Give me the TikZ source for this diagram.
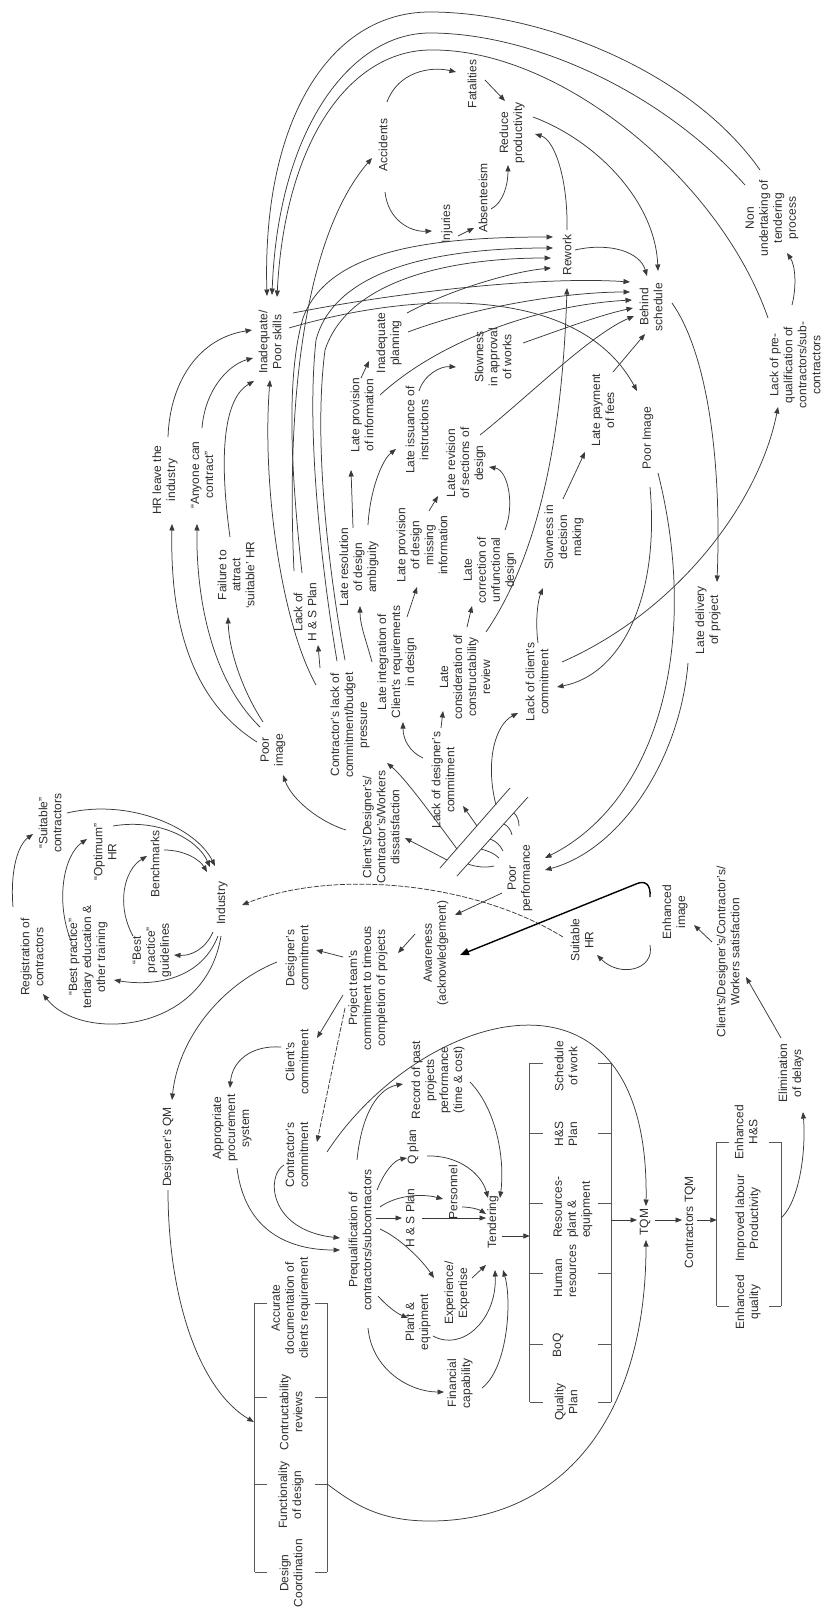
\documentclass[tikz,border=0pt]{standalone}
\usepackage{fontspec}
\setmainfont{Liberation Sans}
\usetikzlibrary{arrows.meta}
\definecolor{lncol}{HTML}{3A3A3A}
\definecolor{txtcol}{HTML}{2E2E2E}
\begin{document}
\begin{tikzpicture}[x=1pt,y=-1pt,
  lbl/.style={rotate=90,align=center,font=\fontsize{12}{14}\selectfont,text=txtcol,inner sep=1pt},
  arr/.style={draw=lncol,line width=0.75pt,-{Triangle[length=6.5pt,width=5pt]}},
  lnplain/.style={draw=lncol,line width=0.75pt},
  boxline/.style={draw=lncol!85,line width=1pt},
  thickarr/.style={draw=black,line width=1.4pt,-{Triangle[length=9pt,width=7pt]}},
  dasharr/.style={arr,dash pattern=on 5pt off 1.5pt}]
\fill[white] (0,0) rectangle (826,1613);
\useasboundingbox (0,0) rectangle (826,1613);

% ---------------- nodes ----------------
\node[lbl] (acc) at (383,145) {Accidents};
\node[lbl] (fat) at (472,84) {Fatalities};
\node[lbl] (redprod) at (512,133) {Reduce\\productivity};
\node[lbl] (inj) at (447,224) {Injuries};
\node[lbl] (abs) at (483,198) {Absenteeism};
\node[lbl] (rework) at (567,255) {Rework};
\node[lbl] (behind) at (651,307) {Behind\\schedule};
\node[lbl] (nonund) at (772,218) {Non\\undertaking of\\tendering\\process};
\node[lbl] (lackpq) at (795,365) {Lack of pre-\\qualification of\\contractors/sub-\\contractors};
\node[lbl] (slowapp) at (493,357) {Slowness\\in approval\\of works};
\node[lbl] (latepay) at (603,410) {Late payment\\of fees};
\node[lbl] (poorimg2) at (648,438) {Poor Image};
\node[lbl] (latedel) at (708,620) {Late delivery\\of project};
\node[lbl] (inad) at (270,342) {Inadequate/\\Poor skills};
\node[lbl] (hrleave) at (165,480) {HR leave the\\industry};
\node[lbl] (anyone) at (202,475) {“Anyone can\\contract”};
\node[lbl] (failure) at (236,575) {Failure to\\attract\\‘suitable’ HR};
\node[lbl] (lackhs) at (305,612) {Lack of\\H \& S Plan};
\node[lbl] (poorimg) at (273,750) {Poor\\image};
\node[lbl] (contlack) at (350,725) {Contractor’s lack of\\commitment/budget\\pressure};
\node[lbl] (dissat) at (381,827) {Client’s/Designer’s/\\Contractor’s/Workers\\dissatisfaction};
\node[lbl] (lateres) at (359,567) {Late resolution\\of design\\ambiguity};
\node[lbl] (lateprovinfo) at (362,415) {Late provision\\of information};
\node[lbl] (inadplan) at (389,343) {Inadequate\\planning};
\node[lbl] (lateiss) at (417,430) {Late issuance of\\instructions};
\node[lbl] (lateprovdes) at (422,545) {Late provision\\of design\\missing\\information};
\node[lbl] (laterev) at (466,463) {Late revision\\of sections of\\design};
\node[lbl] (lateint) at (397,662) {Late integration of\\Client’s requirements\\in design};
\node[lbl] (latecorr) at (490,570) {Late\\correction of\\unfunctional\\design};
\node[lbl] (latecons) at (465,677) {Late\\consideration of\\constructability\\review};
\node[lbl] (slowdec) at (564,537) {Slowness in\\decision\\making};
\node[lbl] (lackcli) at (537,682) {Lack of client’s\\commitment};
\node[lbl] (lackdes) at (443,780) {Lack of designer’s\\commitment};
\node[lbl] (poorperf) at (520,878) {Poor\\performance};
\node[lbl] (aware) at (436,953) {Awareness\\(acknowledgement)};
\node[lbl] (suithr) at (582,940) {Suitable\\HR};
\node[lbl] (enhimg) at (675,912) {Enhanced\\image};
\node[lbl] (satis) at (728,952) {Client’s/Designer’s/Contractor’s/\\Workers satisfaction};
\node[lbl] (elim) at (791,1073) {Elimination\\of delays};
\node[lbl] (industry) at (222,903) {Industry};
\node[lbl] (registration) at (32,957) {Registration of\\contractors};
\node[lbl] (suitcon) at (50,823) {“Suitable”\\contractors};
\node[lbl] (bestedu) at (88,957) {“Best practice”\\tertiary education \&\\other training};
\node[lbl] (optimum) at (105,852) {“Optimum”\\HR};
\node[lbl] (bestguide) at (152,950) {“Best\\practice”\\guidelines};
\node[lbl] (bench) at (155,864) {Benchmarks};
\node[lbl] (desc) at (297,958) {Designer’s\\commitment};
\node[lbl] (clic) at (297,1062) {Client’s\\commitment};
\node[lbl] (conc) at (297,1155) {Contractor’s\\commitment};
\node[lbl] (projteam) at (368,988) {Project team’s\\commitment to timeous\\completion of projects};
\node[lbl] (desqm) at (168,1147) {Designer’s QM};
\node[lbl] (approc) at (232,1128) {Appropriate\\procurement\\system};
\node[lbl] (prequal) at (360,1240) {Prequalification of\\contractors/subcontractors};
\node[lbl] (qplan) at (413,1147) {Q plan};
\node[lbl] (record) at (438,1080) {Record of past\\projects\\performance\\(time \& cost)};
\node[lbl] (personnel) at (453,1192) {Personnel};
\node[lbl] (hsplan) at (410,1218) {H \& S Plan};
\node[lbl] (experience) at (457,1293) {Experience/\\Expertise};
\node[lbl] (plant) at (418,1322) {Plant \&\\equipment};
\node[lbl] (financial) at (460,1383) {Financial\\capability};
\node[lbl] (tendering) at (493,1222) {Tendering};
\node[lbl] (tqm) at (645,1222) {TQM};
\node[lbl] (contqm) at (690,1222) {Contractors TQM};

% ---------------- bracket boxes ----------------
\node[minimum width=81pt,minimum height=339pt,inner sep=0pt] (tbox) at (570.5,1232.5) {};
\draw[boxline] (tbox.north west) -- (tbox.south west);
\draw[boxline] (tbox.north east) -- (tbox.south east);
\foreach \yy in {1063,1133,1203,1273,1344,1402} {
  \draw[boxline] (530,\yy) -- (543,\yy);
  \draw[boxline] (598,\yy) -- (611,\yy);
}
\node[lbl] (tb1) at (566,1066) {Schedule\\of work};
\node[lbl] (tb2) at (566,1134) {H\&S\\Plan};
\node[lbl,align=left] (tb3) at (573,1207) {Resources-\\plant \&\\equipment};
\node[lbl,align=left] (tb4) at (565,1271) {Human\\resources};
\node[lbl] (tb5) at (558,1345) {BoQ};
\node[lbl] (tb6) at (566,1402) {Quality\\Plan};

\node[minimum width=72pt,minimum height=269pt,inner sep=0pt] (dbox) at (291,1437.5) {};
\draw[boxline] (dbox.north west) -- (dbox.south west);
\draw[boxline] (dbox.north east) -- (dbox.south east);
\foreach \yy in {1303,1397,1484,1572} {
  \draw[boxline] (255,\yy) -- (267,\yy);
  \draw[boxline] (315,\yy) -- (327,\yy);
}
\node[lbl] (db1) at (291,1308) {Accurate\\documentation of\\clients requirement};
\node[lbl] (db2) at (291,1412) {Contructability\\reviews};
\node[lbl] (db3) at (291,1495) {Functionality\\of design};
\node[lbl] (db4) at (291,1573) {Design\\Coordination};

\node[minimum width=64pt,minimum height=164pt,inner sep=0pt] (cbox) at (749,1224) {};
\draw[boxline] (cbox.north west) -- (cbox.south west);
\draw[boxline] (cbox.north east) -- (cbox.south east);
\foreach \yy in {1142,1306} {
  \draw[boxline] (717,\yy) -- (729,\yy);
  \draw[boxline] (769,\yy) -- (781,\yy);
}
\node[lbl] (cb1) at (746,1132) {Enhanced\\H\&S};
\node[lbl] (cb2) at (748,1218) {Improved labour\\Productivity};
\node[lbl] (cb3) at (748,1302) {Enhanced\\quality};

% ---------------- connectors: upper area ----------------
\draw[arr] ([shift={(-11,-41)}]lackhs.center) .. controls (285,380) and (310,230) .. ([shift={(-11,13)}]acc.center);
\draw[arr] ([shift={(3,-43)}]hrleave.center) .. controls (170,380) and (200,338) .. ([shift={(-18,-12)}]inad.center);
\draw[arr] ([shift={(0,-47)}]anyone.center) .. controls (205,390) and (228,365) .. ([shift={(-17,16)}]inad.center);
\draw[arr] ([shift={(-6,-38)}]failure.center) .. controls (218,450) and (225,398) .. ([shift={(-16,39)}]inad.center);
\draw[arr] ([shift={(-34,-40)}]contlack.center) .. controls (280,620) and (262,480) .. ([shift={(0,38)}]inad.center);
\draw[arr] ([shift={(-16,-8)}]poorimg.center) .. controls (190,700) and (170,620) .. ([shift={(7,44)}]hrleave.center);
\draw[arr] ([shift={(-13,-23)}]poorimg.center) .. controls (212,680) and (196,600) .. ([shift={(-5,49)}]anyone.center);
\draw[arr] ([shift={(-10,-28)}]poorimg.center) .. controls (242,690) and (229,650) .. ([shift={(-8,42)}]failure.center);
\draw[arr] ([shift={(-35,3)}]dissat.center) .. controls (320,822) and (292,800) .. ([shift={(10,25)}]poorimg.center);
\draw[arr] ([shift={(-30,-57)}]contlack.center) -- ([shift={(13,33)}]lackhs.center);

% arcs to rework
\draw[arr] ([shift={(-3,-39)}]lackhs.center) .. controls (292,480) and (285,380) .. (303,318) .. controls (328,250) and (430,237) .. ([shift={(-14,-18)}]rework.center);
\draw[arr] ([shift={(-13,-64)}]contlack.center) .. controls (325,590) and (305,440) .. (316,340) .. controls (335,268) and (440,248) .. ([shift={(-14,-7)}]rework.center);
\draw[arr] ([shift={(-5,-65)}]contlack.center) .. controls (332,590) and (312,450) .. (325,350) .. controls (348,280) and (450,258) .. ([shift={(-16,3)}]rework.center);
\draw[arr] ([shift={(18,-30)}]inadplan.center) .. controls (450,290) and (510,272) .. ([shift={(-16,13)}]rework.center);

\draw[arr] ([shift={(-25,0)}]lateint.center) .. controls (366,640) and (360,625) .. ([shift={(1,39)}]lateres.center);
\draw[arr] ([shift={(10,-45)}]lateint.center) -- ([shift={(-5,42)}]lateprovdes.center);
\draw[arr] ([shift={(-6,-39)}]lateres.center) -- ([shift={(-11,55)}]lateprovinfo.center);
\draw[arr] ([shift={(9,-42)}]lateres.center) .. controls (370,490) and (382,460) .. ([shift={(-21,19)}]lateiss.center);
\draw[arr] ([shift={(-1,-37)}]lateprovinfo.center) -- ([shift={(-20,18)}]inadplan.center);
\draw[arr] ([shift={(2,-39)}]lateiss.center) .. controls (424,375) and (440,366) .. ([shift={(-37,10)}]slowapp.center);
\draw[arr] ([shift={(7,-34)}]lateprovdes.center) -- ([shift={(-28,33)}]laterev.center);
\draw[arr] ([shift={(15,-40)}]latecorr.center) .. controls (515,505) and (508,470) .. ([shift={(23,4)}]laterev.center);
\draw[arr] ([shift={(2,-50)}]latecons.center) -- ([shift={(-18,36)}]latecorr.center);
\draw[arr] ([shift={(21,-45)}]latecons.center) .. controls (535,560) and (562,450) .. ([shift={(0,33)}]rework.center);
\draw[arr] ([shift={(-20,-22)}]lackdes.center) .. controls (410,752) and (403,740) .. ([shift={(6,60)}]lateint.center);
\draw[arr] ([shift={(-2,-52)}]lackdes.center) -- ([shift={(-22,34)}]latecons.center);
\draw[arr] ([shift={(1,-39)}]lackcli.center) .. controls (535,620) and (538,600) .. ([shift={(-21,51)}]slowdec.center);
\draw[arr] ([shift={(-1,-38)}]slowdec.center) -- ([shift={(-18,42)}]latepay.center);
\draw[arr] ([shift={(10,-38)}]latepay.center) -- ([shift={(-6,27)}]behind.center);
\draw[arr] ([shift={(25,-20)}]lackcli.center) .. controls (680,610) and (760,500) .. ([shift={(-17,42)}]lackpq.center);
\draw[arr] ([shift={(2,49)}]poorimg2.center) .. controls (660,600) and (620,675) .. ([shift={(20,5)}]lackcli.center);
\draw[arr] ([shift={(10,35)}]poorimg2.center) .. controls (700,640) and (660,800) .. ([shift={(25,-20)}]poorperf.center);
\draw[arr] ([shift={(-20,43)}]latedel.center) .. controls (680,760) and (620,850) .. ([shift={(25,-8)}]poorperf.center);
\draw[arr] ([shift={(21,-4)}]behind.center) .. controls (705,350) and (722,450) .. ([shift={(9,-38)}]latedel.center);
\draw[arr] ([shift={(-3,-60)}]lackpq.center) .. controls (797,285) and (795,265) .. ([shift={(15,35)}]nonund.center);

% big arcs over the top
\draw[arr] ([shift={(-12,-48)}]nonund.center) .. controls (690,70) and (540,12) .. (430,12) .. controls (330,12) and (262,120) .. ([shift={(-3,-46)}]inad.center);
\draw[arr] ([shift={(-27,-33)}]nonund.center) .. controls (660,90) and (530,33) .. (430,33) .. controls (350,33) and (278,130) .. ([shift={(2,-47)}]inad.center);
\draw[arr] ([shift={(-27,-47)}]lackpq.center) .. controls (720,180) and (560,48) .. (430,50) .. controls (350,51) and (285,140) .. ([shift={(7,-45)}]inad.center);

\draw[arr] ([shift={(0,-25)}]rework.center) .. controls (568,180) and (555,140) .. ([shift={(23,1)}]redprod.center);
\draw[arr] ([shift={(8,11)}]abs.center) .. controls (503,203) and (508,185) .. ([shift={(-4,32)}]redprod.center);
\draw[arr] ([shift={(13,-4)}]fat.center) -- ([shift={(-7,-32)}]redprod.center);
\draw[arr] ([shift={(4,-43)}]acc.center) .. controls (398,72) and (430,66) .. ([shift={(-16,-12)}]fat.center);
\draw[arr] ([shift={(2,47)}]acc.center) .. controls (388,220) and (410,232) .. ([shift={(-15,7)}]inj.center);
\draw[arr] ([shift={(11,12)}]inj.center) -- ([shift={(-9,30)}]abs.center);
\draw[arr] ([shift={(21,-16)}]redprod.center) .. controls (595,140) and (655,200) .. ([shift={(7,-36)}]behind.center);
\draw[arr] ([shift={(8,-5)}]rework.center) .. controls (610,242) and (640,252) .. ([shift={(-4,-31)}]behind.center);
\draw[arr] ([shift={(23,-29)}]inad.center) .. controls (400,292) and (540,276) .. ([shift={(-21,-25)}]behind.center);
\draw[arr] ([shift={(19,-14)}]inad.center) .. controls (440,284) and (585,295) .. ([shift={(-11,-47)}]poorimg2.center);
\draw[arr] ([shift={(19,-11)}]inadplan.center) .. controls (480,305) and (570,292) .. ([shift={(-21,-15)}]behind.center);
\draw[arr] ([shift={(18,-20)}]lateprovinfo.center) .. controls (440,340) and (540,305) .. ([shift={(-19,-7)}]behind.center);
\draw[arr] ([shift={(30,-14)}]slowapp.center) .. controls (560,330) and (600,315) .. ([shift={(-18,1)}]behind.center);
\draw[arr] ([shift={(14,-28)}]laterev.center) .. controls (530,395) and (590,335) .. ([shift={(-17,9)}]behind.center);

% ---------------- poor performance fan ----------------
\coordinate (bar1a) at (440,868); \coordinate (bar1b) at (510,788);
\coordinate (bar2a) at (457,876); \coordinate (bar2b) at (528,797);
\draw[lnplain] (bar1a) -- (bar1b);
\draw[lnplain] (bar2a) -- (bar2b);
\coordinate (fa) at (447,860); \coordinate (fb) at (457,849);
\coordinate (fc) at (477,826); \coordinate (fd) at (496,805);
\draw[arr] (fa) -- ([shift={(24,11)}]dissat.center);
\draw[arr] (fb) .. controls (432,815) and (405,778) .. ([shift={(37,38)}]contlack.center);
\draw[arr] (fc) -- ([shift={(20,26)}]lackdes.center);
\draw[arr] (fd) .. controls (485,762) and (495,725) .. ([shift={(-19,31)}]lackcli.center);
\draw[lnplain] (468,864) .. controls (476,867) and (486,868) .. (494,866);
\draw[lnplain] (481,849) .. controls (488,851) and (494,853) .. (499,858);
\draw[lnplain] (490,839) .. controls (496,841) and (500,845) .. (503,851);
\draw[lnplain] (504,824) .. controls (508,826) and (511,830) .. (512,835);
\draw[lnplain] (514,813) .. controls (517,816) and (519,820) .. (519,826);

\draw[arr] ([shift={(-18,15)}]poorperf.center) -- ([shift={(19,-38)}]aware.center);
\draw[arr] ([shift={(-21,-19)}]aware.center) -- ([shift={(30,-35)}]projteam.center);
\draw[dasharr] ([shift={(-19,-3)}]suithr.center) .. controls (470,880) and (330,870) .. ([shift={(20,2)}]industry.center);
\draw[thickarr] ([shift={(-25,-15)}]enhimg.center) .. controls (651,884) and (645,880) .. (636,884) -- ([shift={(24,2)}]aware.center);
\draw[arr] ([shift={(-25,33)}]enhimg.center) .. controls (655,970) and (620,978) .. ([shift={(15,15)}]suithr.center);
\draw[arr] ([shift={(-16,-10)}]satis.center) -- ([shift={(19,13)}]enhimg.center);
\draw[arr] ([shift={(-10,-35)}]elim.center) -- ([shift={(18,25)}]satis.center);
\draw[arr] ([shift={(0,-6)}]cbox.east) .. controls (800,1200) and (806,1150) .. ([shift={(12,39)}]elim.center);

% ---------------- industry cluster ----------------
\draw[arr] ([shift={(17,-10)}]suitcon.center) .. controls (130,798) and (196,828) .. ([shift={(-7,-37)}]industry.center);
\draw[arr] ([shift={(8,-26)}]optimum.center) .. controls (160,818) and (198,840) .. ([shift={(-12,-36)}]industry.center);
\draw[arr] ([shift={(9,-14)}]bench.center) .. controls (185,850) and (200,860) .. ([shift={(-15,-31)}]industry.center);
\draw[arr] ([shift={(-9,29)}]industry.center) .. controls (205,950) and (190,956) .. ([shift={(22,5)}]bestguide.center);
\draw[arr] ([shift={(-4,33)}]industry.center) .. controls (200,982) and (150,986) .. ([shift={(26,23)}]bestedu.center);
\draw[arr] ([shift={(-1,33)}]industry.center) .. controls (205,1035) and (80,1042) .. ([shift={(11,37)}]registration.center);
\draw[arr] ([shift={(-19,-50)}]registration.center) .. controls (10,870) and (18,845) .. ([shift={(-17,11)}]suitcon.center);
\draw[arr] ([shift={(-17,-16)}]bestedu.center) .. controls (55,900) and (64,855) .. ([shift={(-18,-13)}]optimum.center);
\draw[arr] ([shift={(-19,-14)}]bestguide.center) .. controls (116,905) and (124,870) .. ([shift={(-8,-8)}]bench.center);

% ---------------- commitment / tendering ----------------
\draw[arr] ([shift={(-20,4)}]desc.center) .. controls (220,985) and (178,1040) .. ([shift={(4,-47)}]desqm.center);
\draw[arr] ([shift={(-25,-31)}]projteam.center) -- ([shift={(19,-8)}]desc.center);
\draw[arr] ([shift={(-25,7)}]projteam.center) -- ([shift={(20,-24)}]clic.center);
\draw[dasharr] ([shift={(-23,20)}]projteam.center) -- ([shift={(20,-13)}]conc.center);
\draw[arr] ([shift={(-16,-15)}]clic.center) .. controls (250,1045) and (232,1062) .. ([shift={(-2,-40)}]approc.center);
\draw[arr] ([shift={(5,40)}]approc.center) .. controls (245,1232) and (290,1250) .. ([shift={(-20,10)}]prequal.center);
\draw[arr] ([shift={(-13,10)}]conc.center) .. controls (266,1175) and (268,1230) .. ([shift={(-20,-2)}]prequal.center);
\draw[arr] ([shift={(30,-3)}]conc.center) .. controls (420,1010) and (650,940) .. ([shift={(1,-16)}]tqm.center);
\draw[arr] ([shift={(0,43)}]desqm.center) .. controls (168,1300) and (200,1390) .. ([shift={(-1,-15.5)}]dbox.west);
\draw[arr] ([shift={(0,46.5)}]dbox.east) .. controls (355,1505) and (380,1521) .. (430,1521) .. controls (560,1521) and (646,1420) .. ([shift={(1,18)}]tqm.center);

\draw[arr] ([shift={(17,-50)}]prequal.center) .. controls (385,1170) and (395,1160) .. ([shift={(-6,11)}]qplan.center);
\draw[arr] ([shift={(-3,-80)}]prequal.center) .. controls (362,1110) and (380,1088) .. ([shift={(-35,4)}]record.center);
\draw[arr] ([shift={(20,-33)}]prequal.center) .. controls (395,1196) and (420,1193) .. ([shift={(-10,7)}]personnel.center);
\draw[arr] ([shift={(16,-22)}]prequal.center) -- ([shift={(-8,0)}]hsplan.center);
\draw[arr] ([shift={(20,-11)}]prequal.center) .. controls (400,1238) and (422,1260) .. ([shift={(-23,-15)}]experience.center);
\draw[arr] ([shift={(18,56)}]prequal.center) .. controls (386,1305) and (396,1313) .. ([shift={(-10,-4)}]plant.center);
\draw[arr] ([shift={(8,88)}]prequal.center) .. controls (372,1370) and (410,1392) .. ([shift={(-16,9)}]financial.center);
\draw[arr] ([shift={(14,9)}]qplan.center) .. controls (460,1155) and (482,1175) .. ([shift={(-5,-24)}]tendering.center);
\draw[arr] ([shift={(32,2)}]record.center) .. controls (497,1110) and (505,1160) .. ([shift={(7,-24)}]tendering.center);
\draw[arr] ([shift={(9,15)}]personnel.center) .. controls (472,1207) and (480,1210) .. ([shift={(-7,-8)}]tendering.center);
\draw[arr] ([shift={(12,0)}]hsplan.center) -- ([shift={(-7,-4)}]tendering.center);
\draw[arr] ([shift={(15,-15)}]experience.center) -- ([shift={(-7,43)}]tendering.center);
\draw[arr] ([shift={(15,14)}]plant.center) .. controls (462,1352) and (497,1320) .. ([shift={(2,48)}]tendering.center);
\draw[arr] ([shift={(22,5)}]financial.center) .. controls (508,1368) and (512,1300) .. ([shift={(10,48)}]tendering.center);
\draw[arr] ([shift={(9,14)}]tendering.center) -- ([shift={(0,3.5)}]tbox.west);
\draw[arr] ([shift={(0,-12.5)}]tbox.east) -- ([shift={(-8,-2)}]tqm.center);
\draw[arr] ([shift={(10,-2)}]tqm.center) -- ([shift={(-8,-2)}]contqm.center);
\draw[arr] ([shift={(7,-2)}]contqm.center) -- ([shift={(0,-4)}]cbox.west);
\end{tikzpicture}
\end{document}
